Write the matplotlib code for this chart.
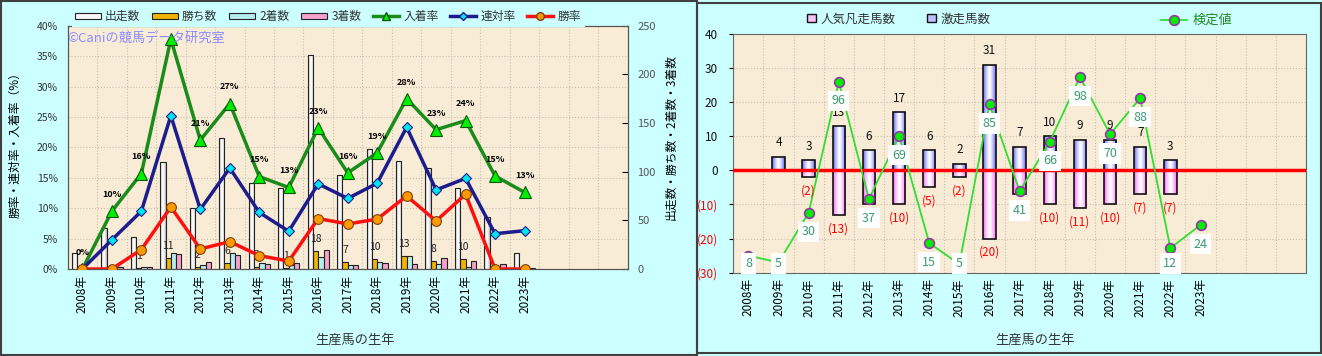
import matplotlib
matplotlib.use("Agg")
import matplotlib.pyplot as plt
import numpy as np
from matplotlib.patches import Patch, Rectangle
from matplotlib.lines import Line2D

plt.rcParams['font.family'] = ['Noto Sans CJK JP', 'DejaVu Sans']

years = ['2008年', '2009年', '2010年', '2011年', '2012年', '2013年', '2014年', '2015年',
         '2016年', '2017年', '2018年', '2019年', '2020年', '2021年', '2022年', '2023年']
n_slots = 19  # the x axis keeps room for three more years

# left chart: counts (right axis)
runs = [16, 42, 33, 110, 63, 135, 88, 83, 220, 97, 123, 111, 104, 83, 53, 16]
wins = [0, 0, 1, 11, 2, 6, 2, 1, 18, 7, 10, 13, 8, 10, 0, 0]
seconds = [0, 2, 2, 16, 4, 16, 6, 4, 12, 4, 7, 13, 5, 2, 3, 1]
thirds = [0, 2, 2, 15, 7, 14, 5, 6, 20, 4, 6, 5, 11, 8, 5, 1]
# left chart: rates in % (left axis)
place_rate = [0, 9.5, 15.7, 37.8, 21.2, 27.2, 15.2, 13.4, 23.2, 15.8, 19.1, 28.0, 22.9, 24.4, 15.3, 12.6]
quinella_rate = [0, 4.8, 9.5, 25.2, 9.8, 16.6, 9.3, 6.2, 14.0, 11.6, 14.1, 23.3, 13.0, 14.9, 5.8, 6.3]
win_rate = [0, 0, 3.2, 10.2, 3.3, 4.5, 2.2, 1.3, 8.3, 7.4, 8.2, 12.0, 7.9, 12.3, 0, 0]

# right chart
gekisou = [0, 4, 3, 13, 6, 17, 6, 2, 31, 7, 10, 9, 9, 7, 3, 0]
bonsou = [0, 0, 2, 13, 10, 10, 5, 2, 20, 7, 10, 11, 10, 7, 7, 0]
kentei = [-25, -27, -12.4, 26.0, -8.4, 10.1, -21.3, -27.5, 19.4, -6.1, 8.4, 27.4, 10.6, 21.2, -22.8, -16.0]
kentei_labels = [8, 5, 30, 96, 37, 69, 15, 5, 85, 41, 66, 98, 70, 88, 12, 24]

BG = '#ccffff'
PLOT_BG = '#f8ecd6'
GRID = '#c9c0b2'


def shade(ax, bars, edge_rgb, zorder=2.5):
    # white centre -> coloured edges, clipped to each bar
    t = np.abs(np.linspace(-1, 1, 64)) ** 1.4
    edge = np.array(edge_rgb)
    img = (1 - t)[:, None] * np.array([1.0, 1.0, 1.0]) + t[:, None] * edge
    img = img[None, :, :]
    for b in bars:
        h = b.get_height()
        if h == 0:
            continue
        x0, y0, w = b.get_x(), b.get_y(), b.get_width()
        im = ax.imshow(img, extent=(x0, x0 + w, y0, y0 + h), aspect='auto',
                       interpolation='bilinear', zorder=zorder)
        im.set_clip_path(b)


fig = plt.figure(figsize=(13.22, 3.56), dpi=100, facecolor=BG)

# panel frames
for x0, y0, w, h in [(1, 1, 696, 354), (697, 3, 624, 350)]:
    fig.patches.append(Rectangle((x0 / 1322, y0 / 356), w / 1322, h / 356,
                                 transform=fig.transFigure, fill=False,
                                 edgecolor='#404040', lw=1.5, zorder=10))

# ---------------- left chart ----------------
x = np.arange(len(years))
ax = fig.add_axes([0.0512, 0.2444, 0.4236, 0.6834])
ax2 = ax.twinx()
ax.set_zorder(ax2.get_zorder() + 1)
ax.patch.set_visible(False)
ax2.patch.set_visible(True)
ax2.patch.set_facecolor(PLOT_BG)

bw = 0.18
bar_cols = ['#f6f6f6', '#f2b400', '#b6eef0', '#f4a2cc']
offs = [-1.5, -0.5, 0.5, 1.5]
bar_sets = []
for vals, off, fc in zip([runs, wins, seconds, thirds], offs, bar_cols):
    bar_sets.append(ax2.bar(x + off * bw, vals, bw, color=fc, edgecolor='#222222', lw=0.8, zorder=2))
# runs bars get a soft grey shading like the original
for b in bar_sets[0]:
    b.set_facecolor('none')
    b.set_zorder(3)
shade(ax2, bar_sets[0], (0.72, 0.72, 0.72))

for xi, v in zip(x, wins):
    if v > 0:
        ax2.annotate(str(v), (xi - 0.5 * bw, v), xytext=(0, 9), textcoords='offset points',
                     ha='center', va='center', fontsize=7.5, color='#222222', zorder=4)

ax2.set_axisbelow(True)
ax2.set_yticks(np.linspace(0, 250, 9), minor=True)
ax2.grid(which='minor', axis='y', color=GRID, ls=':', lw=0.8)
ax2.vlines(np.arange(n_slots + 1) - 0.5, 0, 250, colors=GRID, linestyles=':', lw=0.8, zorder=0.5)
ax2.set_xlim(-0.5, n_slots - 0.5)
ax2.set_ylim(0, 250)
ax2.set_yticks(range(0, 251, 50))
ax2.tick_params(axis='y', which='major', labelsize=8, labelcolor='#555555', length=4,
                direction='in', pad=7)
ax2.tick_params(axis='y', which='minor', length=0)

ax.plot(x, place_rate, color='#1a8c1a', lw=2.5, marker='^', ms=8, mfc='#00ee00',
        mec='#0a5a0a', mew=0.8, zorder=3)
ax.plot(x, quinella_rate, color='#1c1c8c', lw=2.5, marker='D', ms=5.5, mfc='#00e5ee',
        mec='#1c1c8c', mew=0.8, zorder=3)
ax.plot(x, win_rate, color='#ff1010', lw=2.5, marker='o', ms=7, mfc='#ff9900',
        mec='#7a4010', mew=0.8, zorder=3)
for xi, v in zip(x, place_rate):
    ax.annotate(f'{v:.0f}%', (xi, v), xytext=(0, 12), textcoords='offset points',
                ha='center', va='center', fontsize=6.5, fontweight='bold', zorder=4)

ax.set_xlim(-0.5, n_slots - 0.5)
ax.set_ylim(0, 40)
ax.set_yticks(range(0, 41, 5))
ax.set_yticklabels([f'{t}%' for t in range(0, 41, 5)])
ax.tick_params(axis='y', labelsize=7.5, labelcolor='#333333', length=0, pad=7)
ax.set_xticks(x)
ax.set_xticklabels(years, rotation=90, fontsize=8.5)
ax.tick_params(axis='x', length=0, pad=4)
for a in (ax, ax2):
    for s in a.spines.values():
        s.set_color('#555555')

ax.text(0.0, 0.95, '©Caniの競馬データ研究室', transform=ax.transAxes, ha='left', va='center',
        fontsize=9.5, color='#8c8cff', zorder=5)

fig.text(0.0113, 0.6, '勝率・連対率・入着率（%）', rotation=90, ha='center', va='center', fontsize=8.5)
fig.text(0.5076, 0.615, '出走数・勝ち数・2着数・3着数', rotation=90, ha='center', va='center', fontsize=8.5)
fig.text(0.2685, 0.045, '生産馬の生年', ha='center', va='center', fontsize=9.5, color='#333333')

left_handles = [Patch(fc=c, ec='#222222', lw=0.8) for c in bar_cols] + [
    Line2D([], [], color='#1a8c1a', lw=2.5, marker='^', ms=6, mfc='#00ee00', mec='#0a5a0a'),
    Line2D([], [], color='#1c1c8c', lw=2.5, marker='D', ms=4.5, mfc='#00e5ee', mec='#1c1c8c'),
    Line2D([], [], color='#ff1010', lw=2.5, marker='o', ms=5.5, mfc='#ff9900', mec='#7a4010'),
]
left_labels = ['出走数', '勝ち数', '2着数', '3着数', '入着率', '連対率', '勝率']
leg = fig.legend(left_handles, left_labels, loc='center', bbox_to_anchor=(0.248, 0.953), ncol=7,
                 fontsize=8.5, handlelength=2.2, handleheight=0.5, handletextpad=0.35,
                 columnspacing=1.0, frameon=True, facecolor=BG, edgecolor=BG, framealpha=1,
                 borderpad=0.25, fancybox=False)
leg.set_zorder(20)
for t in leg.get_texts():
    t.set_color('#333333')

# ---------------- right chart ----------------
xr = np.arange(len(years))
axr = fig.add_axes([0.5547, 0.234, 0.4332, 0.6705], facecolor=PLOT_BG)
rw = 0.41
b_pos = axr.bar(xr, gekisou, rw, facecolor='none', edgecolor='#111111', lw=1.2, zorder=3)
b_neg = axr.bar(xr, [-v for v in bonsou], rw, facecolor='none', edgecolor='#111111', lw=1.2, zorder=3)
shade(axr, b_pos, (0.38, 0.38, 1.0))
shade(axr, b_neg, (1.0, 0.38, 1.0))

axr.axhline(0, color='#ff0000', lw=2.5, zorder=4)
axr.plot(xr, kentei, color='#33dd33', lw=1.3, marker='o', ms=7, mfc='#00ee00',
         mec='#9933aa', mew=1.2, zorder=5)

for xi, v in zip(xr, gekisou):
    if v > 0:
        axr.annotate(str(v), (xi, v), xytext=(0, 10), textcoords='offset points',
                     ha='center', va='center', fontsize=8.5, color='#111111', zorder=5)
for xi, v in zip(xr, bonsou):
    if v > 0:
        axr.annotate(f'({v})', (xi, -v), xytext=(0, -10), textcoords='offset points',
                     ha='center', va='center', fontsize=8.5, color='#ff0000', zorder=5)
for xi, v, lab in zip(xr, kentei, kentei_labels):
    axr.text(xi, max(v - 5.6, -27.3), str(lab), ha='center', va='center', fontsize=9,
             color='#3a9a70', zorder=6,
             bbox=dict(boxstyle='square,pad=0.3', fc='white', ec='none'))

axr.set_xlim(-0.5, n_slots - 0.5)
axr.set_ylim(-30, 40)
yt = list(range(-30, 41, 10))
axr.set_yticks(yt)
axr.set_yticklabels([str(t) if t >= 0 else f'({-t})' for t in yt])
for lab, t in zip(axr.get_yticklabels(), yt):
    lab.set_color('#ff0000' if t < 0 else '#111111')
axr.tick_params(axis='y', labelsize=8.5, length=3, pad=8)
axr.set_xticks(xr)
axr.set_xticklabels(years, rotation=90, fontsize=8.5)
axr.set_xticks(np.arange(n_slots + 1) - 0.5, minor=True)
axr.tick_params(axis='x', which='both', length=0, pad=4)
axr.set_axisbelow(True)
axr.grid(which='major', axis='y', color=GRID, ls=':', lw=0.8)
axr.grid(which='minor', axis='x', color=GRID, ls=':', lw=0.8)
for s in axr.spines.values():
    s.set_color('#666666')

fig.text(0.783, 0.045, '生産馬の生年', ha='center', va='center', fontsize=9.5, color='#333333')

leg1 = fig.legend([Patch(fc='#f8c0f8', ec='#111111'), Patch(fc='#c0c0ff', ec='#111111')],
                  ['人気凡走馬数', '激走馬数'], loc='center', bbox_to_anchor=(0.680, 0.947), ncol=2,
                  fontsize=9, handlelength=0.7, handleheight=0.7, handletextpad=0.4,
                  columnspacing=2.5, frameon=False)
for t in leg1.get_texts():
    t.set_color('#333333')
leg2 = fig.legend([Line2D([], [], color='#33dd33', lw=1.3, marker='o', ms=7, mfc='#00ee00',
                          mec='#9933aa', mew=1.2)], ['検定値'], loc='center',
                  bbox_to_anchor=(0.905, 0.942), fontsize=9.5, handlelength=2.0,
                  handletextpad=0.4, frameon=False)
leg2.get_texts()[0].set_color('#228b22')

fig.savefig('out.png', dpi=100, facecolor=BG)
